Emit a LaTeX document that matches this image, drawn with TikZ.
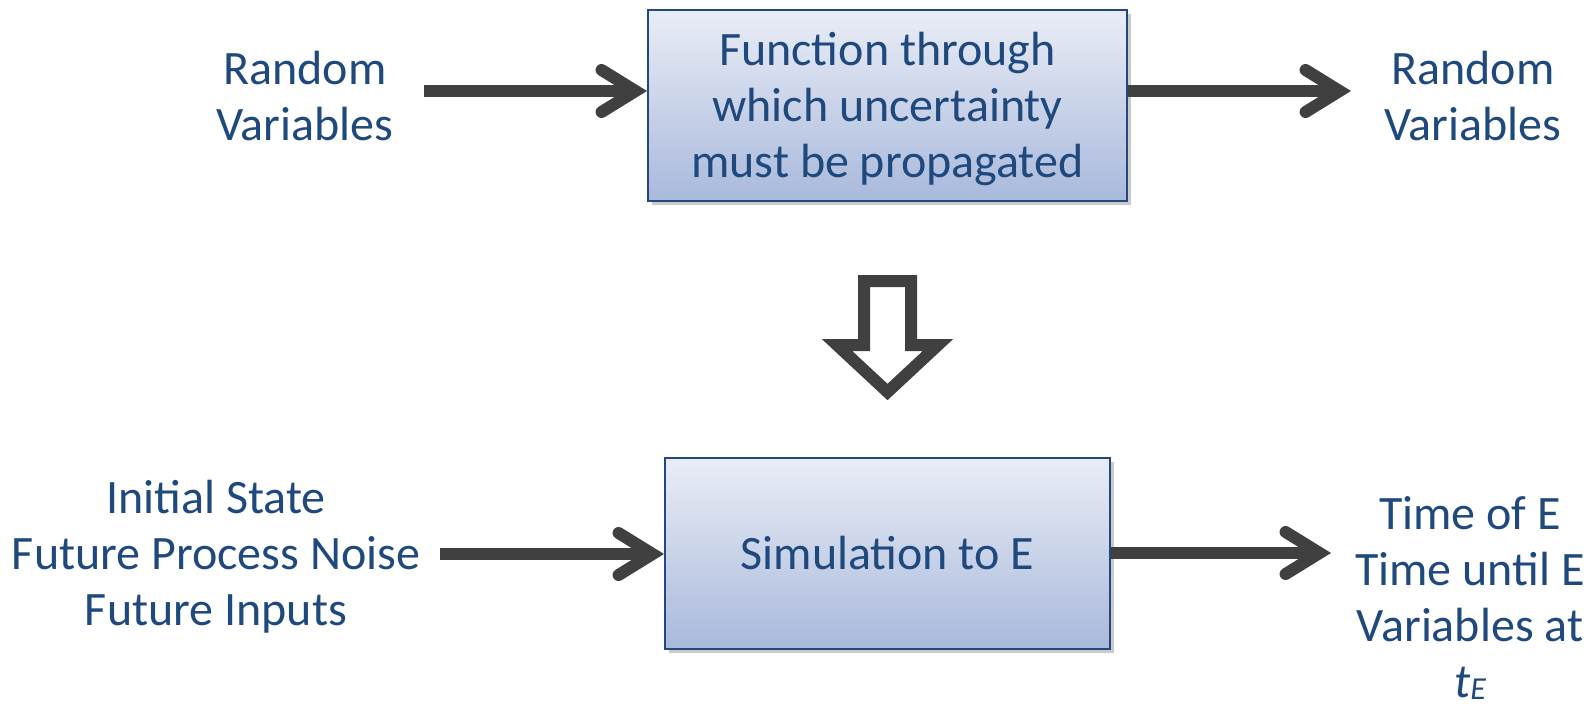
\documentclass[tikz,border=0pt]{standalone}
\usepackage{fontspec}
\setmainfont{Carlito}
\usetikzlibrary{arrows.meta,shadows}
\definecolor{txt}{HTML}{1F497D}
\definecolor{arr}{HTML}{404040}
\definecolor{boxtop}{HTML}{E9EDF6}
\definecolor{boxbot}{HTML}{A9B9DC}
\definecolor{boxline}{HTML}{24487E}
\begin{document}
\begin{tikzpicture}[x=1pt,y=-1pt,
  lbl/.style={text=txt, align=center, font=\fontsize{48}{56}\selectfont, inner sep=0pt},
  blockbox/.style={draw=boxline, line width=2pt, top color=boxtop, bottom color=boxbot,
    drop shadow={shadow xshift=4pt, shadow yshift=-4pt, opacity=0.35, fill=black!60},
    text=txt, align=center, font=\fontsize{48}{56}\selectfont, inner sep=0pt},
  conn/.style={draw=arr, line width=12pt,
    -{Straight Barb[length=34pt, width=42pt, line cap=round, line join=miter]}},
  bigarrow/.style={draw=arr, fill=white, line width=12pt, line join=miter}
]
\useasboundingbox (0,0) rectangle (1593,709);
% boxes
\node[blockbox, minimum width=479pt, minimum height=191pt] (top) at (887.5,105.5) {};
\node[text=txt, align=center, font=\fontsize{48}{56}\selectfont, inner sep=0pt] (topt) at (887.5,108.5)
  {Function through\\which uncertainty\\must be propagated};
\node[blockbox, minimum width=445pt, minimum height=191pt] (bot) at (887.5,553.5)
  {Simulation to E};
% labels
\node[lbl] (inT) at (305,96) {Random\\Variables};
\node[lbl] (outT) at (1473,96) {Random\\Variables};
\node[lbl] (inB) at (216,557) {Initial State\\Future Process Noise\\Future Inputs};
\node[lbl, anchor=north] (outB) at (1470,496) {Time of E\\Time until E\\Variables at\\\textit{t}\raisebox{-0.05em}{\fontsize{32}{32}\selectfont\itshape E}};
% connectors
\coordinate (a1) at (424,91);
\coordinate (a2) at (1351,91);
\coordinate (b1) at (440,554);
\coordinate (b2) at (1331,553);
\draw[conn] (a1) -- (a1 -| top.west);
\draw[conn] (a2 -| top.east) -- (a2);
\draw[conn] (b1) -- (b1 -| bot.west);
\draw[conn] (b2 -| bot.east) -- (b2);
% big down arrow
\draw[bigarrow] (864,281) -- (911,281) -- (911,345) -- (938,345) -- (887.5,392)
  -- (837,345) -- (864,345) -- cycle;
\end{tikzpicture}
\end{document}
